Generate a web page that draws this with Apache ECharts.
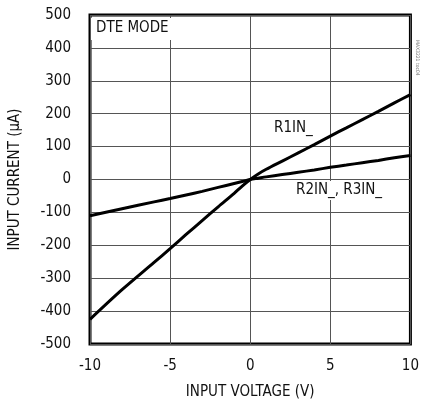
<!DOCTYPE html>
<html>
<head>
<meta charset="utf-8">
<script src="https://cdn.jsdelivr.net/npm/echarts@6/dist/echarts.min.js"></script>
<style>
  html, body { margin: 0; padding: 0; background: #fff; }
  #chart { width: 422px; height: 405px; }
</style>
</head>
<body>
<div id="chart"></div>
<script>
var FONT = '"Liberation Sans Narrow", "DejaVu Sans Condensed", "Liberation Sans", sans-serif';

// input voltage (V)
var voltage = [-10, -8, -6, -5, -4, -3, -2, -1, -0.5, 0, 0.5, 1, 2, 3, 4, 5, 6, 7, 8, 9, 10];
// R1IN_ input current (uA)
var r1Current = [-425, -335, -252, -210, -167, -125, -83, -42, -20, 0, 17, 31, 56, 81, 106, 132, 157, 182, 207, 233, 258];
// R2IN_, R3IN_ input current (uA)
var r2Current = [-110, -89, -68, -58, -47, -36, -24, -12, -6, 0, 4, 8, 15, 22, 29, 37, 44, 51, 58, 66, 73];

var xTicks = [-10, -5, 0, 5, 10];
var yTicks = [-500, -400, -300, -200, -100, 0, 100, 200, 300, 400, 500];

function pairs(xs, ys) {
    return xs.map(function (x, i) { return [x, ys[i]]; });
}

var dom = document.getElementById('chart');
var myChart = echarts.init(dom);

var option = {
    animation: false,
    backgroundColor: '#fff',
    textStyle: { fontFamily: FONT },
    grid: {
        left: 86, right: 9, top: 15, bottom: 61,
        show: true,
        borderWidth: 3,
        borderColor: '#000'
    },
    xAxis: {
        type: 'value',
        min: xTicks[0],
        max: xTicks[xTicks.length - 1],
        interval: 5,
        name: 'INPUT VOLTAGE (V)',
        nameLocation: 'middle',
        nameGap: 41,
        nameTextStyle: { fontFamily: FONT, fontSize: 15, color: '#111' },
        axisLine: { show: false },
        axisTick: { show: false },
        axisLabel: { fontFamily: FONT, fontSize: 15, color: '#111', margin: 15 },
        splitLine: { lineStyle: { color: '#555', width: 1 } }
    },
    yAxis: {
        type: 'value',
        min: yTicks[0],
        max: yTicks[yTicks.length - 1],
        interval: 100,
        name: 'INPUT CURRENT (\u00b5A)',
        nameLocation: 'middle',
        nameGap: 67,
        nameTextStyle: { fontFamily: FONT, fontSize: 15, color: '#111' },
        axisLine: { show: false },
        axisTick: { show: false },
        axisLabel: { fontFamily: FONT, fontSize: 15, color: '#111', margin: 19 },
        splitLine: { lineStyle: { color: '#555', width: 1 } }
    },
    series: [
        {
            name: 'R1IN_',
            type: 'line',
            data: pairs(voltage, r1Current),
            smooth: 0.3,
            showSymbol: false,
            lineStyle: { color: '#000', width: 3 },
            z: 3
        },
        {
            name: 'R2IN_, R3IN_',
            type: 'line',
            data: pairs(voltage, r2Current),
            smooth: 0.3,
            showSymbol: false,
            lineStyle: { color: '#000', width: 3 },
            z: 3
        }
    ],
    graphic: [
        {
            type: 'text', left: 91, top: 18, z: 10,
            style: {
                text: 'DTE MODE', fontFamily: FONT, fontSize: 15, fill: '#111',
                backgroundColor: '#fff', padding: [3, 5, 4, 5]
            }
        },
        {
            type: 'text', left: 274, top: 121, z: 10,
            style: { text: 'R1IN_', fontFamily: FONT, fontSize: 15, fill: '#111' }
        },
        {
            type: 'text', left: 291, top: 181, z: 10,
            style: {
                text: 'R2IN_, R3IN_', fontFamily: FONT, fontSize: 15, fill: '#111',
                backgroundColor: '#fff', padding: [2, 5, 2, 5]
            }
        },
        {
            type: 'text', left: 415, top: 40, rotation: -Math.PI / 2, z: 10,
            style: { text: 'MAX3221 toc04', fontFamily: FONT, fontSize: 5, fill: '#777' }
        }
    ]
};

myChart.setOption(option);
</script>
</body>
</html>
